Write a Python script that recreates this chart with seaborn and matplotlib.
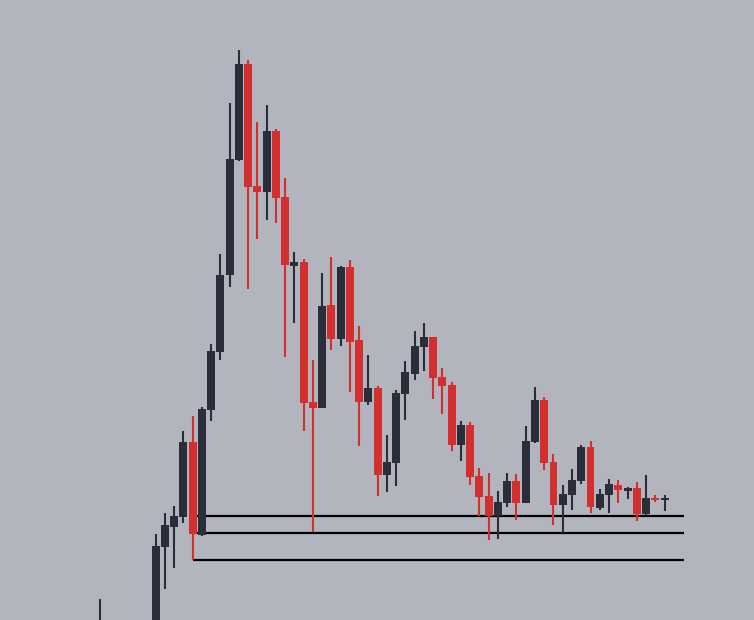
import numpy as np
import pandas as pd
import matplotlib
matplotlib.use("Agg")
import matplotlib.pyplot as plt
import seaborn as sns

# OHLC (price units, one candle per bar)
opens = [-25, -8, -20, -28, -22, -12, -10, 73, 93, 103, 178, 85, 210, 268, 345, 460,
         556, 434, 428, 489, 423, 354, 358, 218, 212, 315, 281, 353, 280, 218, 232,
         145, 157, 226, 246, 273, 283, 243, 235, 175, 195, 144, 124, 104, 117, 139,
         117, 178, 220, 158, 115, 125, 139, 173, 112, 125, 135, 129, 132, 106, 122, 120]
highs = [21, -3, -10, -15, -8, -4, 86, 107, 114, 189, 204, 213, 276, 366, 517, 570,
         560, 498, 515, 491, 442, 368, 361, 260, 347, 363, 354, 360, 294, 265, 234,
         185, 230, 259, 289, 297, 283, 252, 238, 199, 198, 152, 147, 129, 147, 146,
         194, 233, 223, 166, 135, 151, 175, 179, 131, 141, 140, 133, 138, 145, 125, 125]
lows = [-35, -30, -38, -40, -30, -25, -18, 31, 52, 97, 60, 84, 199, 260, 333, 459,
        331, 381, 400, 397, 263, 297, 189, 88, 212, 270, 274, 228, 174, 215, 124,
        128, 134, 200, 240, 249, 221, 206, 169, 159, 135, 104, 80, 81, 113, 100,
        117, 177, 150, 95, 87, 110, 136, 107, 110, 107, 117, 121, 99, 105, 118, 109]
closes = [-8, -20, -28, -22, -12, -10, 74, 95, 104, 178, 86, 211, 269, 345, 461, 556,
          433, 428, 489, 422, 355, 358, 217, 212, 314, 281, 353, 278, 218, 232, 145,
          158, 227, 248, 274, 283, 242, 234, 175, 195, 143, 123, 104, 118, 139, 117,
          179, 220, 157, 115, 126, 140, 173, 113, 126, 136, 130, 132, 106, 122, 120, 122]

# horizontal levels drawn from the big red candle to the right edge
levels = [104, 87, 60]
level_start = 10

df = pd.DataFrame({"open": opens, "high": highs, "low": lows, "close": closes})
df["idx"] = np.arange(len(df))
df["up"] = df["close"] >= df["open"]

bg = "#b2b5be"
up_color = "#2a2e39"
down_color = "#d32f2f"

sns.set_theme(style="white", rc={"axes.facecolor": bg, "figure.facecolor": bg})

fig = plt.figure(figsize=(7.54, 6.2), dpi=100)
ax = fig.add_axes([0, 0, 1, 1])
ax.set_facecolor(bg)

colors = np.where(df["up"], up_color, down_color)

# levels (behind candles)
x_end = (684 - 100) / 9.255
for lv in levels:
    ax.hlines(lv, level_start, x_end, color="black", linewidth=1.6, zorder=1)

# wicks
ax.vlines(df["idx"], df["low"], df["high"], colors=colors, linewidth=1.5, zorder=2)

# bodies
body_bottom = df[["open", "close"]].min(axis=1)
body_height = (df["close"] - df["open"]).abs().clip(lower=2)
ax.bar(df["idx"], body_height, bottom=body_bottom, width=0.86, color=colors,
       linewidth=0, zorder=3)

ax.set_xlim(-100 / 9.255, (754 - 100) / 9.255)
ax.set_ylim(0, 620)
ax.axis("off")

fig.savefig("out.png", dpi=100, facecolor=bg)
